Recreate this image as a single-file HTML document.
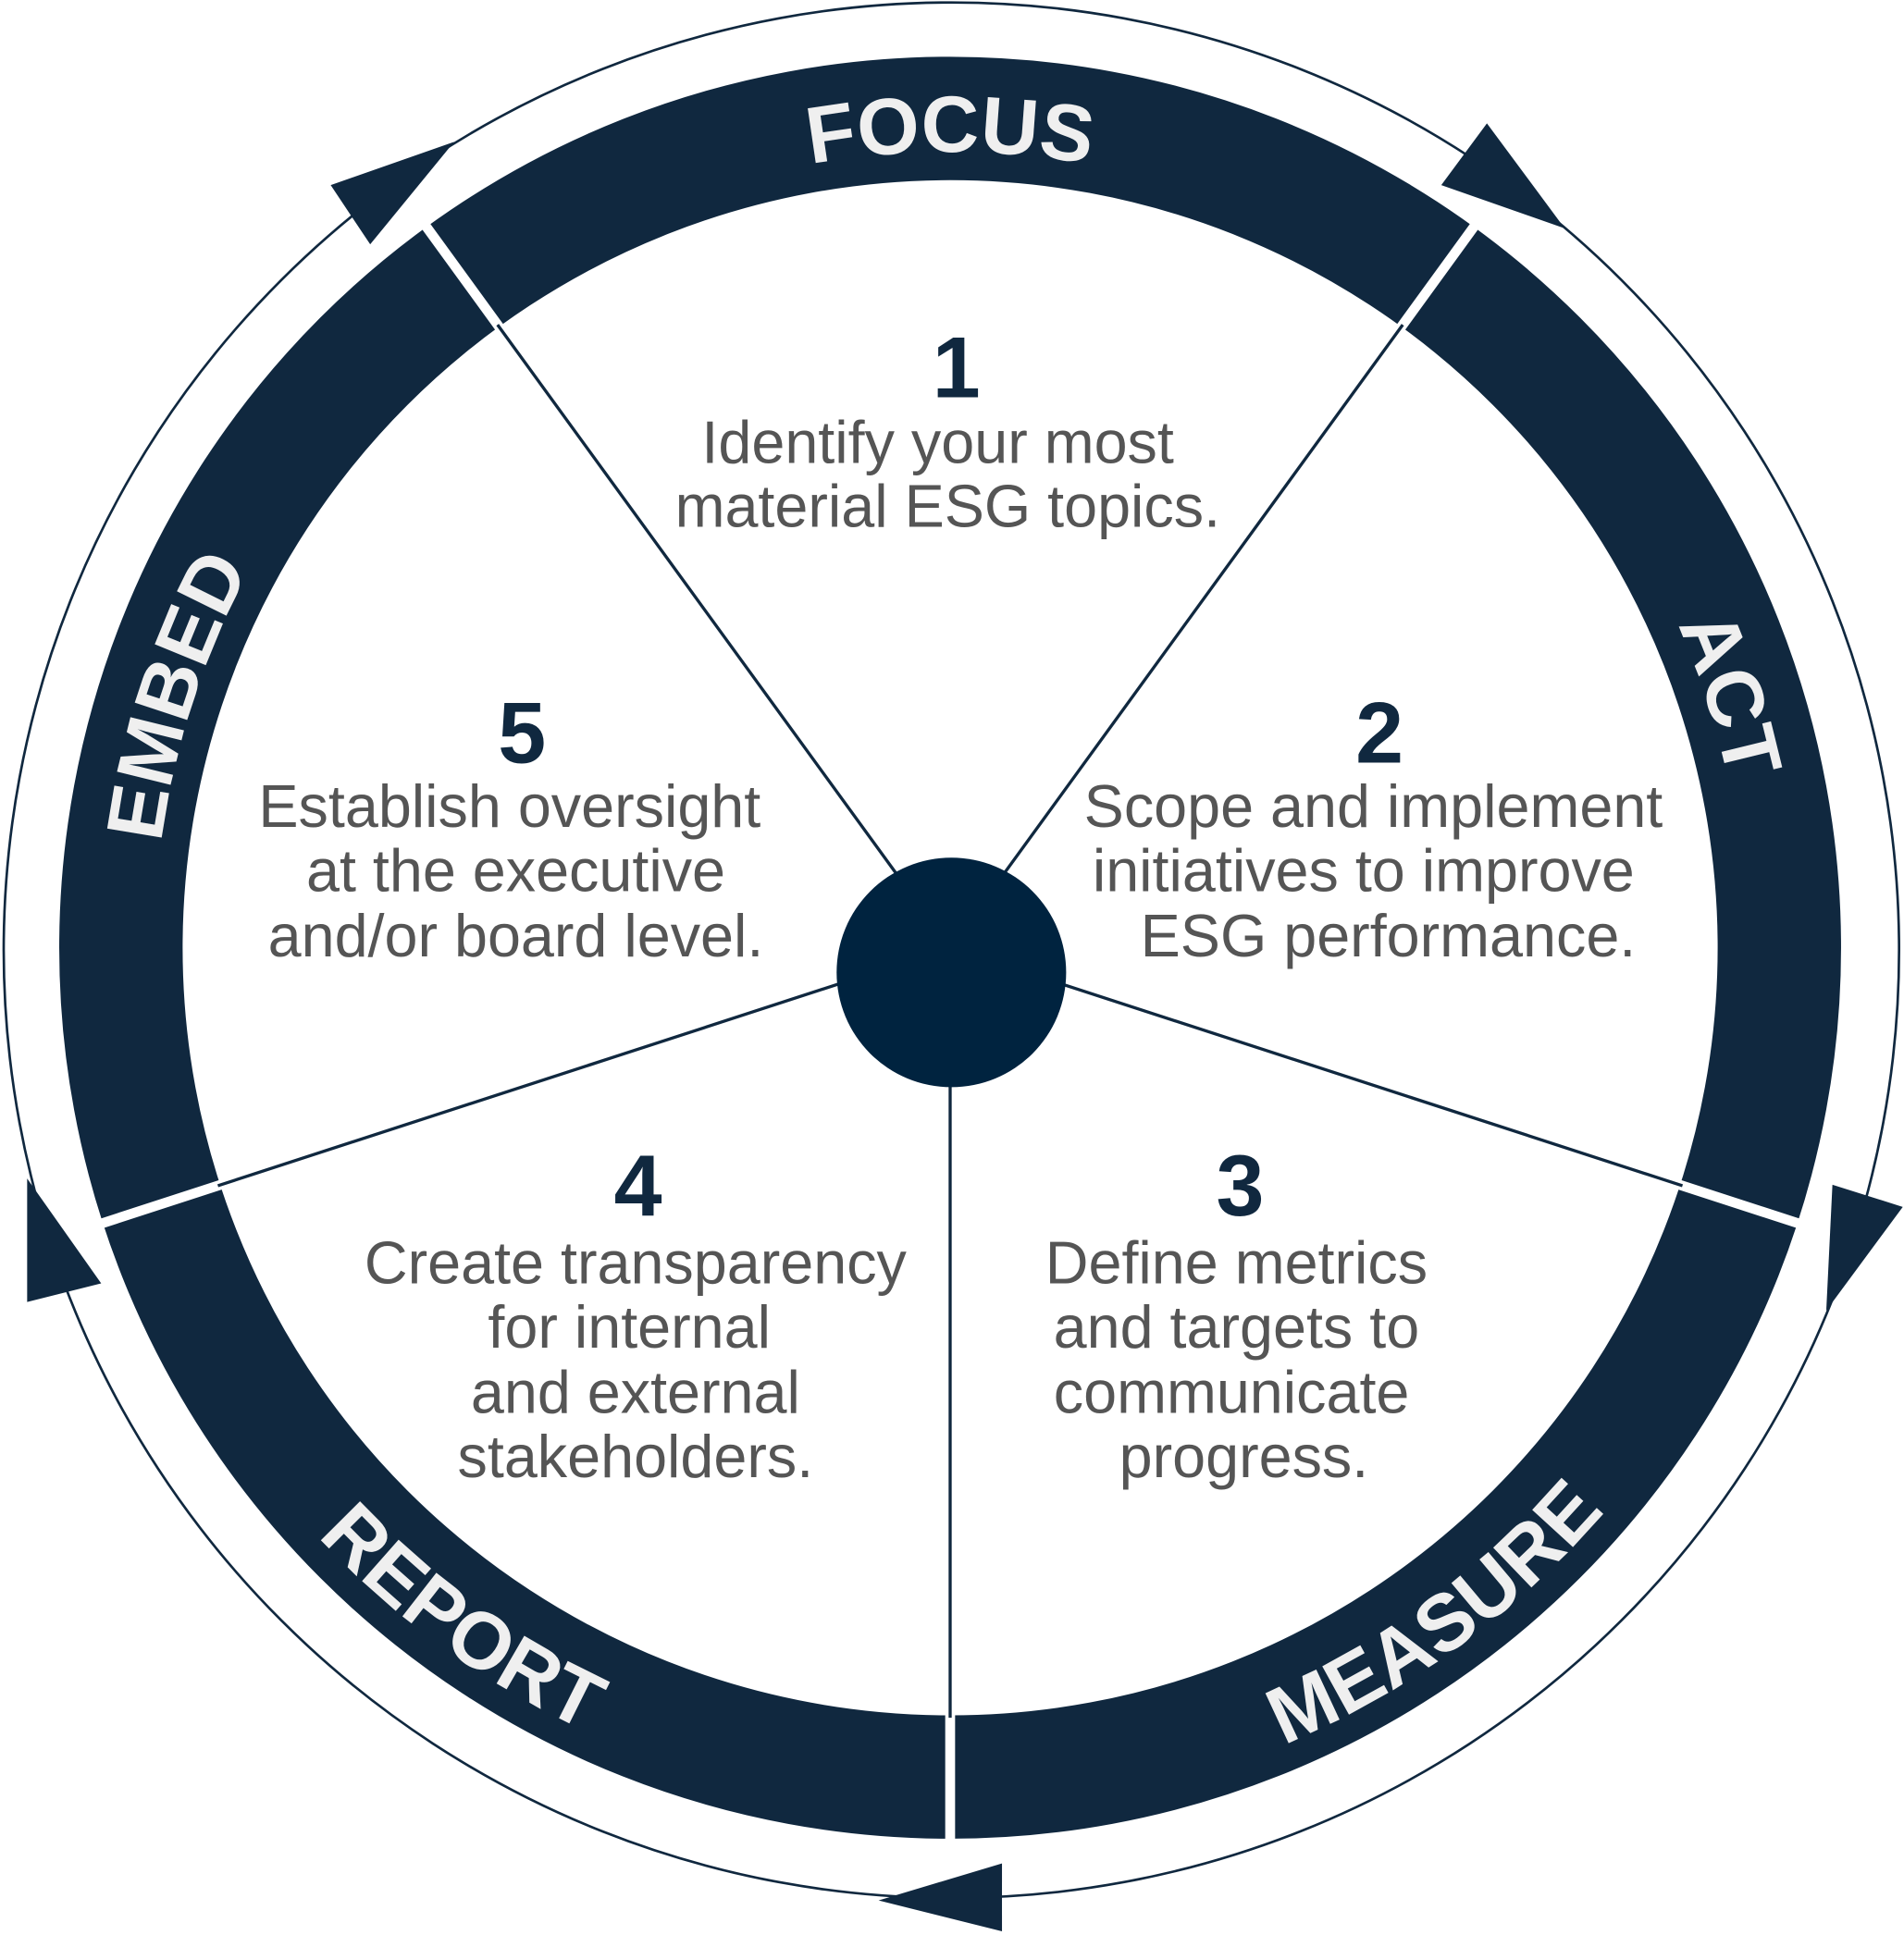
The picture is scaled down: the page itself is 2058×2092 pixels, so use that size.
<!DOCTYPE html>
<html><head><meta charset="utf-8"><style>
html,body{margin:0;padding:0;background:#fff;}
svg{display:block;}
.ring{font-family:"Liberation Sans",sans-serif;font-weight:bold;font-size:65px;fill:#efefef;}
.num{font-family:"Liberation Sans",sans-serif;font-weight:bold;font-size:70px;fill:#10283f;text-anchor:middle;}
.bd{font-family:"Liberation Sans",sans-serif;font-size:48.5px;fill:#555;text-anchor:middle;}
</style></head><body>
<svg width="2058" height="2092" viewBox="0 0 1543 1568" preserveAspectRatio="none" xmlns="http://www.w3.org/2000/svg">
<defs>
<path id="cw" d="M1415,768 A645,645 0 1 1 125,768 A645,645 0 1 1 1415,768"/>
<path id="ccw" d="M70,768 A700,700 0 1 0 1470,768 A700,700 0 1 0 70,768"/>
</defs>
<circle cx="771" cy="770" r="768" fill="none" stroke="#10283f" stroke-width="2"/>
<circle cx="770" cy="768" r="672" fill="none" stroke="#10283f" stroke-width="100"/>
<g stroke="#fff" stroke-width="8">
<line x1="770" y1="768" x2="770" y2="1500"/>
<g transform="rotate(-72 770 768)"><line x1="770" y1="768" x2="770" y2="1500"/></g>
<g transform="rotate(-144 770 768)"><line x1="770" y1="768" x2="770" y2="1500"/></g>
<g transform="rotate(72 770 768)"><line x1="770" y1="768" x2="770" y2="1500"/></g>
<g transform="rotate(144 770 768)"><line x1="770" y1="768" x2="770" y2="1500"/></g>
</g>
<g stroke="#10283f" stroke-width="2.5">
<line x1="770" y1="768" x2="770" y2="1392"/>
<g transform="rotate(-72 770 768)"><line x1="770" y1="768" x2="770" y2="1392"/></g>
<g transform="rotate(-144 770 768)"><line x1="770" y1="768" x2="770" y2="1392"/></g>
<g transform="rotate(72 770 768)"><line x1="770" y1="768" x2="770" y2="1392"/></g>
<g transform="rotate(144 770 768)"><line x1="770" y1="768" x2="770" y2="1392"/></g>
</g>
<circle cx="771" cy="788" r="93" fill="#00233f"/>
<g fill="#10283f">
<polygon points="268,150 368,115 300,198"/>
<polygon points="1205,100 1268,185 1168,150"/>
<polygon points="1485,960 1542,978 1480,1062"/>
<polygon points="812,1510 812,1565 712,1540"/>
<polygon points="22,955 82,1040 22,1055"/>
</g>
<text class="ring"><textPath href="#cw" startOffset="75%" text-anchor="middle">FOCUS</textPath></text>
<text class="ring"><textPath href="#cw" startOffset="95%" text-anchor="middle">ACT</textPath></text>
<text class="ring"><textPath href="#cw" startOffset="55%" text-anchor="middle">EMBED</textPath></text>
<text class="ring"><textPath href="#ccw" startOffset="15%" text-anchor="middle">REPORT</textPath></text>
<text class="ring"><textPath href="#ccw" startOffset="35%" text-anchor="middle">MEASURE</textPath></text>
<text class="num" x="775" y="322">1</text>
<text class="bd" x="760" y="375">Identify your most</text>
<text class="bd" x="768" y="427">material ESG topics.</text>
<text class="num" x="1118" y="618">2</text>
<text class="bd" x="1113" y="670">Scope and implement</text>
<text class="bd" x="1105" y="722">initiatives to improve</text>
<text class="bd" x="1125" y="775">ESG performance.</text>
<text class="num" x="1005" y="985">3</text>
<text class="bd" x="1002" y="1040">Define metrics</text>
<text class="bd" x="1002" y="1092">and targets to</text>
<text class="bd" x="998" y="1145">communicate</text>
<text class="bd" x="1008" y="1197">progress.</text>
<text class="num" x="517" y="985">4</text>
<text class="bd" x="515" y="1040">Create transparency</text>
<text class="bd" x="510" y="1092">for internal</text>
<text class="bd" x="515" y="1145">and external</text>
<text class="bd" x="515" y="1197">stakeholders.</text>
<text class="num" x="423" y="618">5</text>
<text class="bd" x="413" y="670">Establish oversight</text>
<text class="bd" x="418" y="722">at the executive</text>
<text class="bd" x="418" y="775">and/or board level.</text>
</svg>
</body></html>
